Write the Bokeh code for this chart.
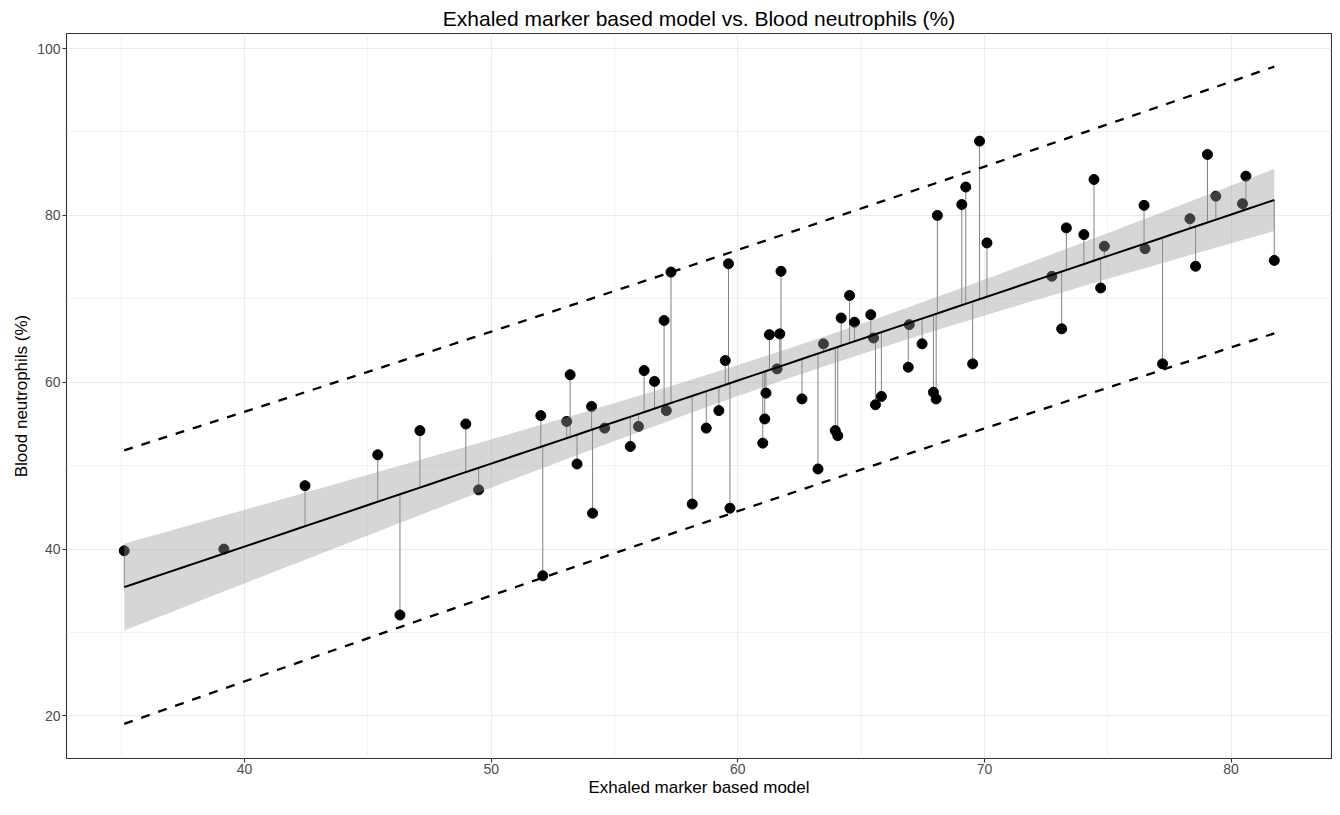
import numpy as np
from bokeh.plotting import figure
from bokeh.models import Range1d, FixedTicker
from bokeh.embed import file_html
from bokeh.resources import INLINE

# ---- data ----
model_x = [35.12, 39.16, 42.45, 45.40, 46.30, 47.11, 48.97, 49.49, 52.01, 52.09,
           53.06, 53.20, 53.48, 54.07, 54.11, 54.60, 55.64, 55.97, 56.20, 56.62,
           57.01, 57.10, 57.29, 58.15, 58.72, 59.23, 59.49, 59.62, 59.68, 61.01,
           61.09, 61.14, 61.28, 61.59, 61.70, 61.75, 62.60, 63.25, 63.47, 63.95,
           64.05, 64.19, 64.53, 64.73, 65.39, 65.50, 65.58, 65.82, 66.91, 66.95,
           67.47, 67.93, 68.04, 68.09, 69.08, 69.24, 69.52, 69.80, 70.10, 72.73,
           73.13, 73.32, 74.03, 74.44, 74.71, 74.86, 76.47, 76.51, 77.22, 78.33,
           78.56, 79.04, 79.38, 80.46, 80.60, 81.75]
neutrophils = [39.8, 40.0, 47.6, 51.3, 32.1, 54.2, 55.0, 47.1, 56.0, 36.8,
               55.3, 60.9, 50.2, 57.1, 44.3, 54.5, 52.3, 54.7, 61.4, 60.1,
               67.4, 56.6, 73.2, 45.4, 54.5, 56.6, 62.6, 74.2, 44.9, 52.7,
               55.6, 58.7, 65.7, 61.6, 65.8, 73.3, 58.0, 49.6, 64.6, 54.2,
               53.6, 67.7, 70.4, 67.2, 68.1, 65.3, 57.3, 58.3, 61.8, 66.9,
               64.6, 58.8, 58.0, 80.0, 81.3, 83.4, 62.2, 88.9, 76.7, 72.7,
               66.4, 78.5, 77.7, 84.3, 71.3, 76.3, 81.2, 76.0, 62.2, 79.6,
               73.9, 87.3, 82.3, 81.4, 84.7, 74.6]
x_ticks = [40, 50, 60, 70, 80]
x_minor = [35, 45, 55, 65, 75, 85]
y_ticks = [20, 40, 60, 80, 100]
y_minor = [10, 30, 50, 70, 90]
T975 = 1.9925  # t quantile, df = n - 2

# ---- linear model (as geom_smooth(method = "lm")) ----
x = np.array(model_x)
y = np.array(neutrophils)
n = len(x)
xbar = x.mean()
Sxx = ((x - xbar) ** 2).sum()
b1 = ((x - xbar) * (y - y.mean())).sum() / Sxx
b0 = y.mean() - b1 * xbar
fitted = b0 + b1 * x
s = np.sqrt(((y - fitted) ** 2).sum() / (n - 2))
xs = np.linspace(x.min(), x.max(), 80)
ys = b0 + b1 * xs
ci = T975 * s * np.sqrt(1 / n + (xs - xbar) ** 2 / Sxx)
pi = T975 * s * np.sqrt(1 + 1 / n + (xs - xbar) ** 2 / Sxx)

FONT = "Liberation Sans"

p = figure(width=1332, height=799,
           x_range=Range1d(32.78, 84.07), y_range=Range1d(14.9, 101.8),
           output_backend="svg", toolbar_location=None,
           min_border_left=66, min_border_right=1,
           min_border_top=33, min_border_bottom=0,
           title="Exhaled marker based model vs. Blood neutrophils (%)")

p.background_fill_color = "white"
p.border_fill_color = "white"
p.outline_line_color = "#333333"
p.outline_line_width = 1.1

p.title.align = "center"
p.title.text_font = FONT
p.title.text_font_size = "21px"
p.title.text_font_style = "normal"
p.title.text_color = "black"
p.title.standoff = 8

# grids
for g in (p.xgrid, p.ygrid):
    g.grid_line_color = "#ebebeb"
    g.grid_line_width = 1.1
    g.minor_grid_line_color = "#ebebeb"
    g.minor_grid_line_width = 0.6

p.xaxis.ticker = FixedTicker(ticks=x_ticks, minor_ticks=x_minor)
p.yaxis.ticker = FixedTicker(ticks=y_ticks, minor_ticks=y_minor)
p.xaxis.axis_label = "Exhaled marker based model"
p.yaxis.axis_label = "Blood neutrophils (%)"
for ax in (p.xaxis, p.yaxis):
    ax.axis_line_color = None
    ax.major_tick_in = 0
    ax.major_tick_out = 4
    ax.minor_tick_in = 0
    ax.minor_tick_out = 0
    ax.major_tick_line_color = "#333333"
    ax.major_tick_line_width = 1.1
    ax.major_label_text_font = FONT
    ax.major_label_text_font_size = "14px"
    ax.major_label_text_color = "#4d4d4d"
    ax.major_label_standoff = 2
    ax.axis_label_text_font = FONT
    ax.axis_label_text_font_size = "17px"
    ax.axis_label_text_font_style = "normal"
    ax.axis_label_text_color = "black"
    ax.axis_label_standoff = 3
p.xaxis.major_label_standoff = 1
p.xaxis.axis_label_standoff = 1

# residual stems
p.segment(x0=x, y0=fitted, x1=x, y1=y, line_color="#808080", line_width=1)
# points
p.scatter(x, y, size=10, fill_color="black", line_color="black")
# confidence band (drawn over points, as in the original)
p.varea(x=xs, y1=ys - ci, y2=ys + ci, fill_color="#999999", fill_alpha=0.4)
# fitted line
p.line(xs, ys, line_color="black", line_width=2)
# prediction interval
p.line(xs, ys + pi, line_color="black", line_width=2.3, line_dash="9 9")
p.line(xs, ys - pi, line_color="black", line_width=2.3, line_dash="9 9")

open("out.html", "w").write(file_html(p, INLINE))
